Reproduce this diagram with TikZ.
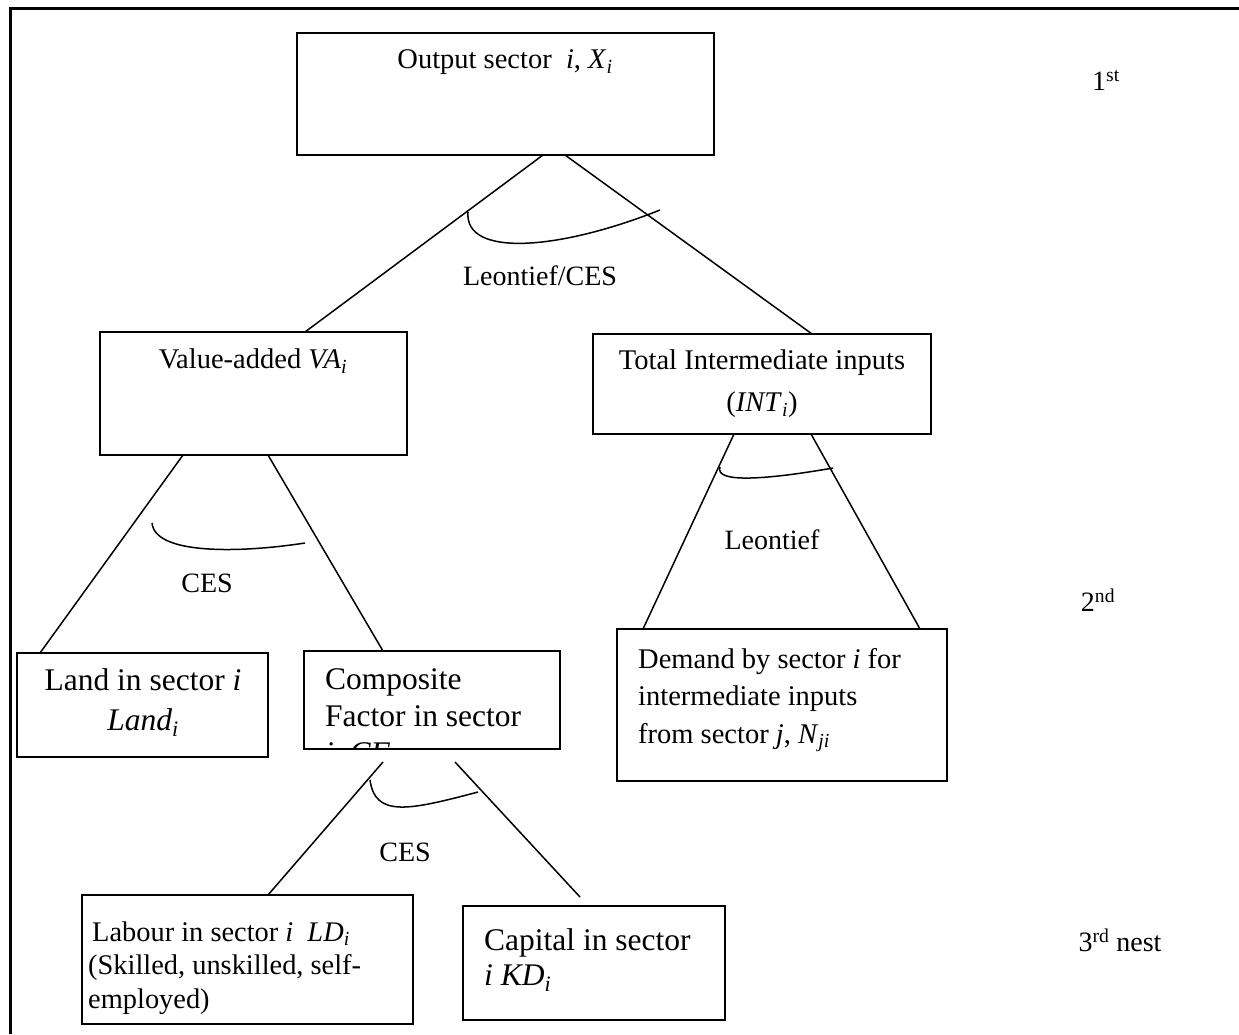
\documentclass[tikz,border=0pt]{standalone}
\usepackage{fontspec}
\setmainfont{Liberation Serif}
% italic symbols set in the text font, like the document's equation font
\newcommand{\sym}[1]{\textit{#1}}
\newcommand{\symsub}[2]{\textit{#1}\textsubscript{\textit{#2}}}
\begin{document}
\begin{tikzpicture}[x=1pt,y=-1pt,
  box/.style={draw, rectangle, line width=1.8pt, anchor=north west,
              inner sep=0pt, outer sep=0pt},
  link/.style={line width=1.5pt},
  nestarc/.style={line width=1.5pt},
  txt/.style={inner sep=0pt, font=\fontsize{28.5}{37}\selectfont},
  bigtxt/.style={inner sep=0pt, font=\fontsize{31.5}{37}\selectfont},
  lbl/.style={inner sep=0pt, font=\fontsize{28}{34}\selectfont}]

\useasboundingbox (0,0) rectangle (1239,1034);

% outer frame (only left and top sides)
\draw[line width=3pt] (10,1034) -- (10,8) -- (1239,8);

% ---- boxes ----
\node[box, minimum width=417pt, minimum height=122pt] (out) at (297,33) {};
\node[box, minimum width=307pt, minimum height=123pt] (va)  at (100,332) {};
\node[box, minimum width=338pt, minimum height=100pt] (int) at (593,334) {};
\node[box, minimum width=251pt, minimum height=104pt] (land) at (17,653) {};
\node[box, minimum width=256pt, minimum height=98pt]  (cf)  at (304,651) {};
\node[box, minimum width=330pt, minimum height=152pt] (dem) at (617,629) {};
\node[box, minimum width=331pt, minimum height=129pt] (lab) at (82,895) {};
\node[box, minimum width=262pt, minimum height=114pt] (cap) at (463,906) {};

% ---- box texts ----
\node[txt] (outtxt) at (505,62) {Output sector\enspace\sym{i}, \symsub{X}{i}};
\node[txt] (vatxt) at (253,361) {Value-added \symsub{VA}{i}};
\node[txt, align=center, font=\fontsize{28.5}{42}\selectfont] (inttxt) at (762,384)
  {Total Intermediate inputs\\(\symsub{INT}{i})};
\node[bigtxt, align=center, font=\fontsize{31.5}{40}\selectfont] (landtxt) at (143,703)
  {Land in sector \sym{i}\\\symsub{Land}{i}};
\begin{scope}
  \clip (304,651) rectangle (560,749);
  \node[bigtxt, align=left, anchor=west] (cftxt) at (325,719)
    {Composite\\Factor in sector\\\sym{i}, \symsub{CF}{i}};
\end{scope}
\node[txt, align=left, anchor=west, font=\fontsize{28.5}{37.5}\selectfont] (demtxt) at (638,700)
  {Demand by sector \sym{i} for\\intermediate inputs\\from sector \sym{j}, \symsub{N}{ji}};
\begin{scope}
  \clip (82,895) rectangle (413,1023);
  \node[txt, align=left, anchor=west, font=\fontsize{28.4}{33.5}\selectfont] (labtxt) at (88,968)
    {\hspace{4pt}Labour in sector \sym{i}\enspace\symsub{LD}{i}\\(Skilled, unskilled, self-\\employed)};
\end{scope}
\node[bigtxt, align=left, anchor=west, font=\fontsize{31.5}{35}\selectfont] (captxt) at (484,960)
  {Capital in sector\\\sym{i} \symsub{KD}{i}};

% ---- connectors ----
\draw[link] ([xshift=246pt]out.south west) -- ([xshift=205pt]va.north west);
\draw[link] ([xshift=268pt]out.south west) -- ([xshift=219pt]int.north west);
\draw[link] ([xshift=83pt]va.south west) -- ([xshift=23pt]land.north west);
\draw[link] ([xshift=168pt]va.south west) -- ([xshift=79pt]cf.north west);
\draw[link] ([xshift=141pt]int.south west) -- ([xshift=26pt]dem.north west);
\draw[link] ([xshift=218pt]int.south west) -- ([xshift=303pt]dem.north west);
\coordinate (cfL) at (383,762);
\coordinate (cfR) at (455,762);
\coordinate (capTop) at (580,897);
\draw[link] (cfL) -- ([xshift=186pt]lab.north west);
\draw[link] (cfR) -- (capTop);

% ---- substitution arcs ----
\draw[nestarc] (468,212) .. controls (464,258) and (560,250) .. (660,210);
\draw[nestarc] (152,523) .. controls (155,555) and (240,553) .. (305,543);
\draw[nestarc] (720,467) .. controls (714,484) and (770,479) .. (833,468);
\draw[nestarc] (370,780) .. controls (375,818) and (410,810) .. (478,792);

% ---- arc labels ----
\node[lbl] (l1) at (540,276) {Leontief/CES};
\node[lbl] (l2) at (207,583) {CES};
\node[lbl] (l3) at (772,540) {Leontief};
\node[lbl] (l4) at (405,852) {CES};

% ---- nest levels ----
\node[lbl] (n1) at (1106,80) {1\textsuperscript{st}};
\node[lbl] (n2) at (1098,600) {2\textsuperscript{nd}};
\node[lbl] (n3) at (1120,940) {3\textsuperscript{rd} nest};
\end{tikzpicture}
\end{document}
